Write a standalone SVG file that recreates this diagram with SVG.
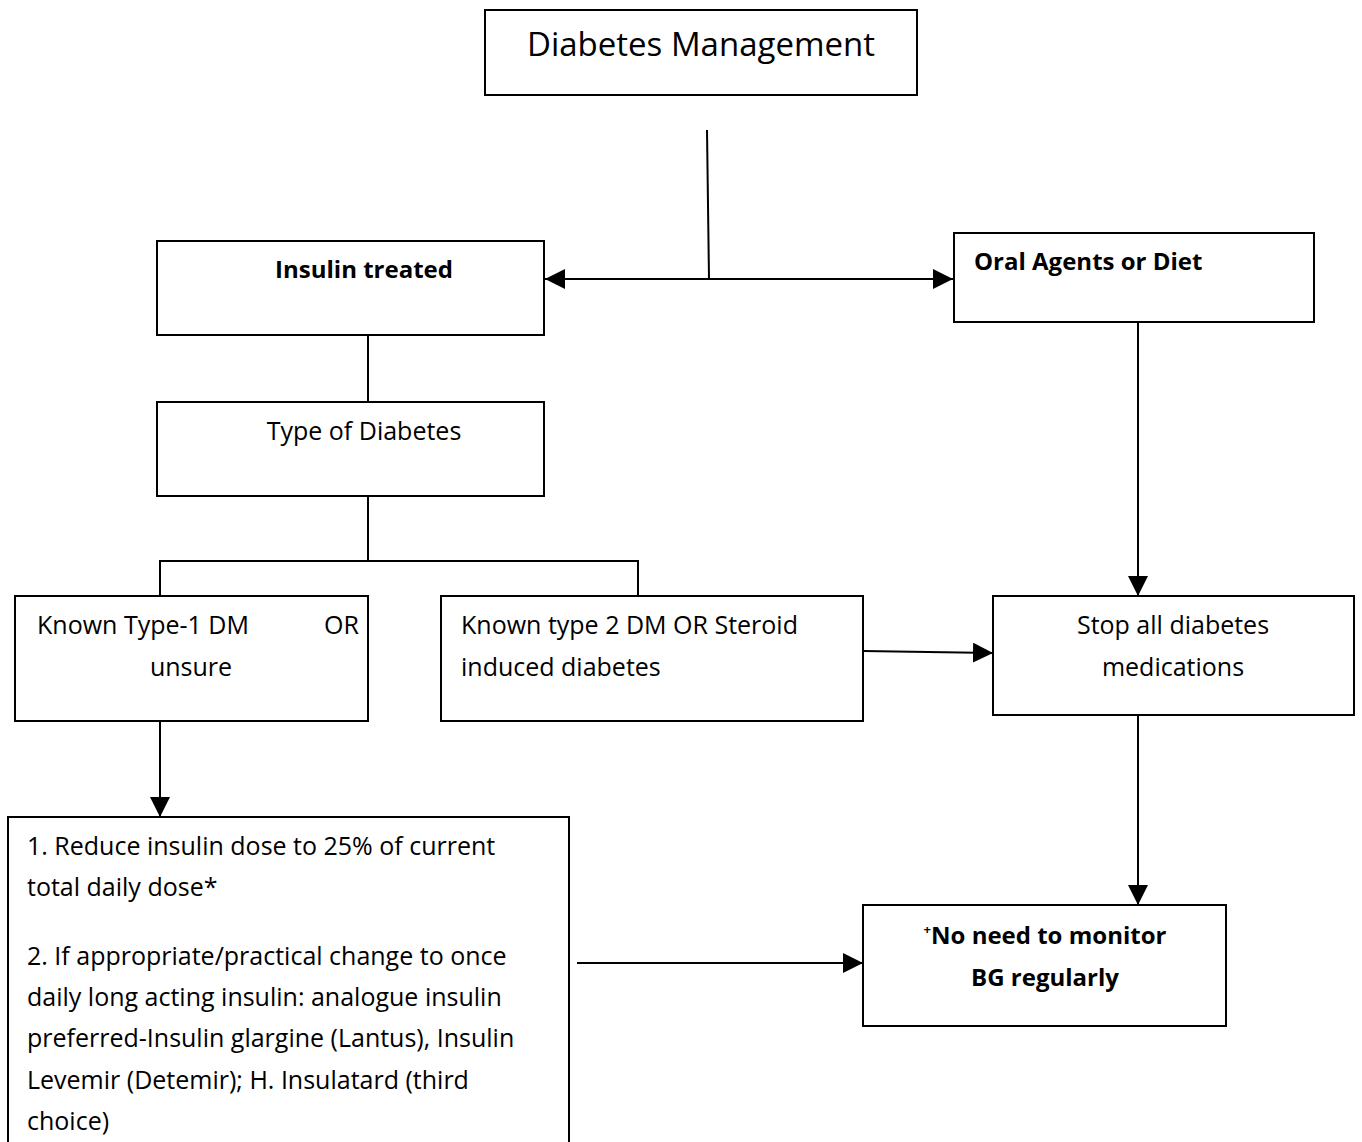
<svg xmlns="http://www.w3.org/2000/svg" width="1362" height="1142" viewBox="0 0 1362 1142">
<style>
.box{fill:#fff;stroke:#000;stroke-width:2}
.t{font-family:"Open Sans","Noto Sans",sans-serif;font-size:25px;fill:#000}
.b{font-weight:bold;font-size:24px}
.c{text-anchor:middle}
.ln{fill:none;stroke:#000;stroke-width:2}
</style>
<defs>
<marker id="ah" markerUnits="userSpaceOnUse" markerWidth="22" markerHeight="22" refX="20" refY="10" orient="auto">
<path d="M0,0 L20,10 L0,20 Z" fill="#000"/>
</marker>
</defs>
<rect width="1362" height="1142" fill="#fff"/>
<g id="connectors">
<polyline class="ln" points="707,130 709,279"/>
<line class="ln" x1="709" y1="279" x2="545" y2="279" marker-end="url(#ah)"/>
<line class="ln" x1="709" y1="279" x2="953" y2="279" marker-end="url(#ah)"/>
<line class="ln" x1="368" y1="335" x2="368" y2="402"/>
<polyline class="ln" points="368,496 368,561"/>
<polyline class="ln" points="160,597 160,561 638,561 638,597"/>
<line class="ln" x1="1138" y1="322" x2="1138" y2="596" marker-end="url(#ah)"/>
<line class="ln" x1="863" y1="651" x2="993" y2="653" marker-end="url(#ah)"/>
<line class="ln" x1="1138" y1="715" x2="1138" y2="905" marker-end="url(#ah)"/>
<line class="ln" x1="160" y1="721" x2="160" y2="817" marker-end="url(#ah)"/>
<line class="ln" x1="577" y1="963" x2="863" y2="963" marker-end="url(#ah)"/>
</g>
<g id="diabetes-management">
<rect class="box" x="485" y="10" width="432" height="85"/>
<text class="t c" x="701" y="56" style="font-size:33px">Diabetes Management</text>
</g>
<g id="insulin-treated">
<rect class="box" x="157" y="241" width="387" height="94"/>
<text class="t b c" x="364" y="278">Insulin treated</text>
</g>
<g id="oral-agents">
<rect class="box" x="954" y="233" width="360" height="89"/>
<text class="t b" x="974" y="270">Oral Agents or Diet</text>
</g>
<g id="type-of-diabetes">
<rect class="box" x="157" y="402" width="387" height="94"/>
<text class="t c" x="364" y="440">Type of Diabetes</text>
</g>
<g id="type1">
<rect class="box" x="15" y="596" width="353" height="125"/>
<text class="t" x="37" y="634">Known Type-1 DM</text>
<text class="t" x="324" y="634">OR</text>
<text class="t c" x="191" y="676">unsure</text>
</g>
<g id="type2">
<rect class="box" x="441" y="596" width="422" height="125"/>
<text class="t" x="461" y="634">Known type 2 DM OR Steroid</text>
<text class="t" x="461" y="676">induced diabetes</text>
</g>
<g id="stop-all">
<rect class="box" x="993" y="596" width="361" height="119"/>
<text class="t c" x="1173" y="634">Stop all diabetes</text>
<text class="t c" x="1173" y="676">medications</text>
</g>
<g id="no-need">
<rect class="box" x="863" y="905" width="363" height="121"/>
<text class="t b c" x="1045" y="944"><tspan style="font-size:13px" dy="-10">+</tspan><tspan dy="10">No need to monitor</tspan></text>
<text class="t b c" x="1045" y="986">BG regularly</text>
</g>
<g id="reduce-insulin">
<rect class="box" x="8" y="817" width="561" height="340"/>
<text class="t" x="27" y="855">1. Reduce insulin dose to 25% of current</text>
<text class="t" x="27" y="896">total daily dose*</text>
<text class="t" x="27" y="965">2. If appropriate/practical change to once</text>
<text class="t" x="27" y="1006">daily long acting insulin: analogue insulin</text>
<text class="t" x="27" y="1047">preferred-Insulin glargine (Lantus), Insulin</text>
<text class="t" x="27" y="1089">Levemir (Detemir); H. Insulatard (third</text>
<text class="t" x="27" y="1130">choice)</text>
</g>
</svg>
